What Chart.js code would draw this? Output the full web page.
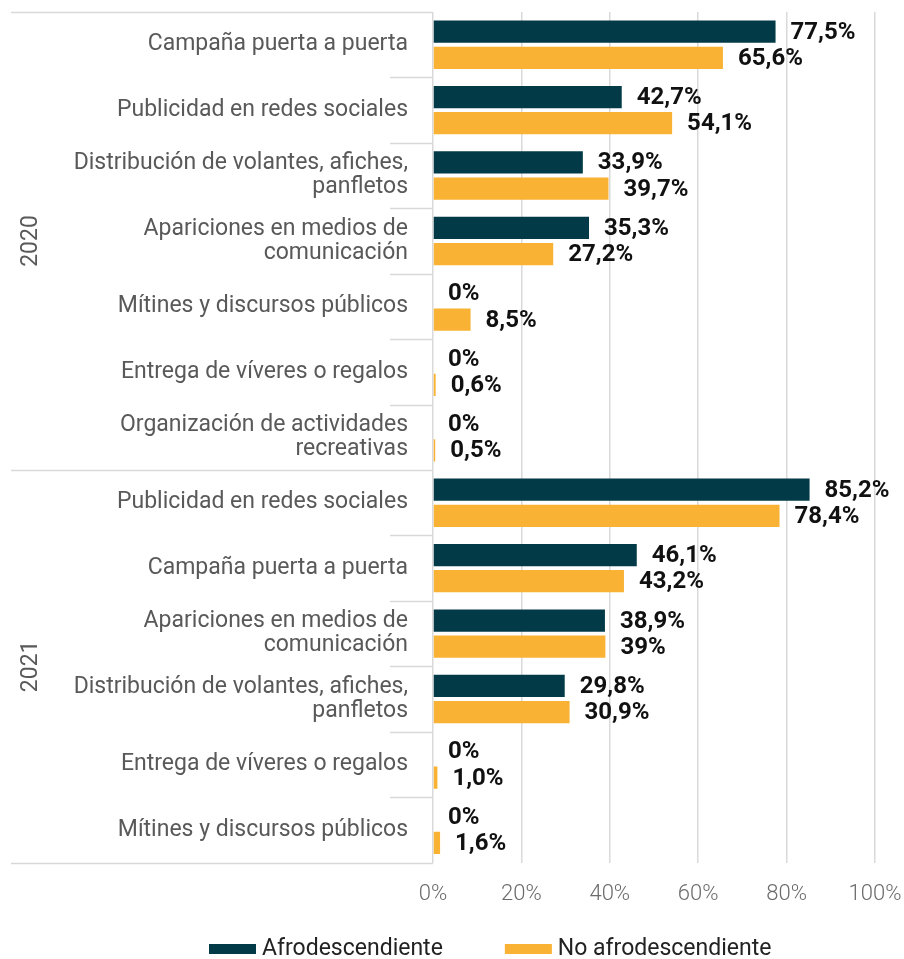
<!DOCTYPE html>
<html>
<head>
<meta charset="utf-8">
<script src="https://cdn.jsdelivr.net/npm/chart.js@4/dist/chart.umd.min.js"></script>
<style>
 html,body{margin:0;padding:0;background:#fff}
 #wrap{width:904px;height:959px;position:relative}
</style>
</head>
<body>
<div id="wrap"><canvas id="c"></canvas></div>
<script>
const CATEGORIES=[
 ['Campaña puerta a puerta'],
 ['Publicidad en redes sociales'],
 ['Distribución de volantes, afiches,','panfletos'],
 ['Apariciones en medios de','comunicación'],
 ['Mítines y discursos públicos'],
 ['Entrega de víveres o regalos'],
 ['Organización de actividades','recreativas'],
 ['Publicidad en redes sociales'],
 ['Campaña puerta a puerta'],
 ['Apariciones en medios de','comunicación'],
 ['Distribución de volantes, afiches,','panfletos'],
 ['Entrega de víveres o regalos'],
 ['Mítines y discursos públicos']
];
const GROUPS=[{label:'2020',count:7},{label:'2021',count:6}];
const AFRO=[77.5,42.7,33.9,35.3,0,0,0,85.2,46.1,38.9,29.8,0,0];
const NO_AFRO=[65.6,54.1,39.7,27.2,8.5,0.6,0.5,78.4,43.2,39,30.9,1.0,1.6];
const AFRO_LABELS=['77,5%','42,7%','33,9%','35,3%','0%','0%','0%','85,2%','46,1%','38,9%','29,8%','0%','0%'];
const NO_AFRO_LABELS=['65,6%','54,1%','39,7%','27,2%','8,5%','0,6%','0,5%','78,4%','43,2%','39%','30,9%','1,0%','1,6%'];
const X_TICKS=[0,20,40,60,80,100];

const DARK='#023b47',ORANGE='#f9b233',GRID='#d9d9d9',TXT='#595959';
const FONT='Roboto, "Noto Sans", sans-serif';

const valueLabels={
 id:'valueLabels',
 afterDatasetsDraw(chart){
  const ctx=chart.ctx;
  ctx.save();
  ctx.font='bold 24px '+FONT;ctx.fillStyle='#111';ctx.textAlign='left';ctx.textBaseline='middle';
  chart.data.datasets.forEach((ds,di)=>{
   chart.getDatasetMeta(di).data.forEach((bar,i)=>{
    ctx.fillText(ds.valueLabels[i],bar.x+15,bar.y+1);
   });
  });
  ctx.restore();
 }
};

const groupLines={
 id:'groupLines',
 afterDraw(chart){
  const ctx=chart.ctx,y=chart.scales.y;
  const n=CATEGORIES.length,step=(y.bottom-y.top)/n;
  const ends=[0];let acc=0;GROUPS.forEach(g=>{acc+=g.count;ends.push(acc)});
  ctx.save();
  ctx.strokeStyle=GRID;ctx.lineWidth=1.5;
  for(let k=0;k<=n;k++){
   const py=Math.round(y.top+k*step)+0.5;
   const x0=ends.includes(k)?11:y.right-43;
   ctx.beginPath();ctx.moveTo(x0,py);ctx.lineTo(y.right,py);ctx.stroke();
  }
  // group labels
  ctx.fillStyle=TXT;ctx.font='23px '+FONT;ctx.textAlign='center';ctx.textBaseline='middle';
  GROUPS.forEach((g,gi)=>{
   const cy=y.top+(ends[gi]+ends[gi+1])/2*step;
   ctx.save();ctx.translate(31,cy);ctx.rotate(-Math.PI/2);ctx.fillText(g.label,0,0);ctx.restore();
  });
  // legend
  let lx=209;const ly=949;
  ctx.textAlign='left';ctx.font='23px '+FONT;
  chart.data.datasets.forEach(ds=>{
   ctx.fillStyle=ds.backgroundColor;ctx.fillRect(lx,ly-5,47,10);
   ctx.fillStyle='#222';ctx.fillText(ds.label,lx+53,ly);
   lx=lx+53+ctx.measureText(ds.label).width+62;
  });
  ctx.restore();
 }
};

new Chart(document.getElementById('c'),{
 type:'bar',
 data:{labels:CATEGORIES,datasets:[
  {label:'Afrodescendiente',data:AFRO,backgroundColor:DARK,valueLabels:AFRO_LABELS,categoryPercentage:0.8,barPercentage:0.85},
  {label:'No afrodescendiente',data:NO_AFRO,backgroundColor:ORANGE,valueLabels:NO_AFRO_LABELS,categoryPercentage:0.8,barPercentage:0.85}
 ]},
 options:{
  indexAxis:'y',responsive:true,maintainAspectRatio:false,animation:false,
  layout:{padding:{top:12,right:29,bottom:32,left:0}},
  plugins:{legend:{display:false},tooltip:{enabled:false}},
  scales:{
   x:{min:0,max:100,afterBuildTicks(s){s.ticks=X_TICKS.map(v=>({value:v}))},
    afterFit(s){s.paddingLeft=0;s.paddingRight=0},
    grid:{color:GRID,lineWidth:1.5,drawTicks:false},border:{display:false},
    ticks:{padding:19,color:'#6b6b6b',font:{size:22,family:FONT,weight:300},callback:v=>v+'%'}},
   y:{grid:{display:false},border:{display:false},
    afterFit(s){s.width=433;s.paddingTop=0;s.paddingBottom=0},
    ticks:{padding:17,color:TXT,font:{size:23,family:FONT,lineHeight:1.05},autoSkip:false}}
  }
 },
 plugins:[valueLabels,groupLines]
});
</script>
</body>
</html>
